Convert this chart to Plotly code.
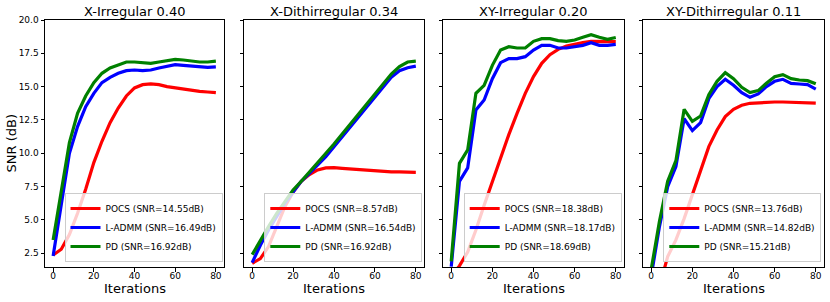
import plotly.graph_objects as go

# ---------------- data ----------------
iterations = list(range(0, 81, 4))

titles = ["X-Irregular 0.40", "X-Dithirregular 0.34", "XY-Irregular 0.20", "XY-Dithirregular 0.11"]
methods = ["POCS", "L-ADMM", "PD"]
final_snr = [
    [14.55, 16.49, 16.92],
    [8.57, 16.54, 16.92],
    [18.38, 18.17, 18.69],
    [13.76, 14.82, 15.21],
]

x_irr_pocs = [2.37, 2.8, 3.9, 5.5, 7.3, 9.3, 10.9, 12.3, 13.4, 14.3, 14.9, 15.15, 15.2, 15.15, 15.0, 14.9, 14.8, 14.7, 14.65, 14.6, 14.55]
x_irr_ladmm = [2.3, 6.0, 10.0, 12.0, 13.5, 14.5, 15.3, 15.7, 16.0, 16.2, 16.25, 16.2, 16.25, 16.4, 16.55, 16.65, 16.6, 16.55, 16.45, 16.45, 16.49]
x_irr_pd = [3.5, 7.0, 10.8, 13.0, 14.3, 15.3, 16.0, 16.4, 16.65, 16.85, 16.85, 16.8, 16.75, 16.85, 16.95, 17.05, 17.0, 16.9, 16.85, 16.85, 16.92]

x_dith_pocs = [1.75, 2.1, 3.0, 4.5, 6.0, 7.1, 7.9, 8.4, 8.75, 8.9, 8.92, 8.87, 8.82, 8.75, 8.7, 8.65, 8.62, 8.6, 8.6, 8.57, 8.57]
x_dith_ladmm = [1.8, 3.1, 4.25, 5.25, 6.25, 7.1, 7.9, 8.5, 9.1, 9.75, 10.5, 11.25, 12.0, 12.75, 13.5, 14.25, 15.0, 15.7, 16.2, 16.42, 16.54]
x_dith_pd = [2.4, 3.5, 4.5, 5.5, 6.4, 7.25, 7.9, 8.6, 9.25, 9.95, 10.7, 11.45, 12.2, 12.95, 13.7, 14.45, 15.2, 15.95, 16.5, 16.85, 16.92]

xy_irr_pocs = [0.8, 1.55, 2.6, 4.25, 6.1, 7.9, 9.6, 11.4, 13.0, 14.5, 15.75, 16.75, 17.4, 17.8, 18.05, 18.2, 18.3, 18.4, 18.4, 18.4, 18.38]
xy_irr_ladmm = [1.5, 7.9, 8.9, 13.25, 14.0, 15.6, 16.8, 17.1, 17.1, 17.25, 17.75, 18.1, 18.1, 17.9, 17.9, 18.0, 18.1, 18.3, 18.1, 18.1, 18.17]
xy_irr_pd = [1.9, 9.25, 10.25, 14.5, 15.1, 16.6, 17.75, 18.0, 17.9, 17.9, 18.4, 18.6, 18.6, 18.45, 18.4, 18.5, 18.7, 18.9, 18.7, 18.55, 18.69]

xy_dith_pocs = [-1.0, 0.0, 2.25, 3.5, 5.1, 6.9, 8.75, 10.5, 11.75, 12.75, 13.3, 13.6, 13.75, 13.8, 13.85, 13.85, 13.85, 13.82, 13.8, 13.8, 13.76]
xy_dith_ladmm = [0.8, 4.5, 7.5, 9.0, 12.6, 11.7, 12.3, 14.1, 15.0, 15.55, 15.1, 14.55, 14.2, 14.45, 15.0, 15.4, 15.55, 15.25, 15.2, 15.15, 14.82]
xy_dith_pd = [1.3, 4.9, 7.9, 9.45, 13.3, 12.4, 12.8, 14.4, 15.4, 16.05, 15.6, 14.95, 14.55, 14.7, 15.25, 15.75, 15.9, 15.6, 15.5, 15.45, 15.21]

panels = [
    [x_irr_pocs, x_irr_ladmm, x_irr_pd],
    [x_dith_pocs, x_dith_ladmm, x_dith_pd],
    [xy_irr_pocs, xy_irr_ladmm, xy_irr_pd],
    [xy_dith_pocs, xy_dith_ladmm, xy_dith_pd],
]

y_ticks = [2.5, 5.0, 7.5, 10.0, 12.5, 15.0, 17.5, 20.0]
x_ticks = [0, 20, 40, 60, 80]
x_label = "Iterations"
y_label = "SNR (dB)"

# ---------------- styling / layout ----------------
colors = ["#ff0000", "#0000ff", "#008000"]
FONT = "DejaVu Sans"
W, H = 830, 302
ML, MR, MT, MB = 45, 6, 20, 35
PW = W - ML - MR
PH = H - MT - MB

panel_px = [(45, 224), (244, 424), (443, 624), (643, 824)]
legend_right_px = [222.5, 422.3, 621.7, 821.3]

fig = go.Figure()
layout = dict(
    width=W, height=H,
    margin=dict(l=ML, r=MR, t=MT, b=MB, pad=0),
    paper_bgcolor="white", plot_bgcolor="white",
    font=dict(family=FONT, size=9, color="black"),
    showlegend=True,
    annotations=[],
)

for i, (series, title) in enumerate(zip(panels, titles)):
    n = i + 1
    xa = "x" if n == 1 else f"x{n}"
    ya = "y" if n == 1 else f"y{n}"
    leg = "legend" if n == 1 else f"legend{n}"
    for m, (vals, col) in enumerate(zip(series, colors)):
        fig.add_trace(go.Scatter(
            x=iterations, y=vals, mode="lines",
            line=dict(color=col, width=3.2),
            name=f"{methods[m]} (SNR={final_snr[i][m]:.2f}dB)",
            xaxis=xa, yaxis=ya, legend=leg,
        ))
    x0, x1 = panel_px[i]
    dom = [(x0 - ML) / PW, (x1 - ML) / PW]
    axis_common = dict(
        showline=True, linecolor="black", linewidth=1, mirror=True,
        ticks="outside", ticklen=3.5, tickwidth=1, tickcolor="black",
        showgrid=False, zeroline=False, automargin=False,
        tickfont=dict(family=FONT, size=9, color="black"),
    )
    layout["xaxis" if n == 1 else f"xaxis{n}"] = dict(
        domain=dom, range=[-4, 84], tickvals=x_ticks, anchor=ya,
        ticklabelstandoff=-3,
        **axis_common,
    )
    layout["yaxis" if n == 1 else f"yaxis{n}"] = dict(
        domain=[0, 1], range=[1.47, 20.0], tickvals=y_ticks, tickformat=".1f",
        anchor=xa, showticklabels=(n == 1), **axis_common,
    )
    layout[leg] = dict(
        x=(legend_right_px[i] - ML) / PW, y=5 / PH,
        xanchor="right", yanchor="bottom",
        bgcolor="rgba(255,255,255,0.8)", bordercolor="#cccccc", borderwidth=1,
        font=dict(family=FONT, size=9, color="black"),
        itemwidth=30, tracegroupgap=0,
    )
    cx = (dom[0] + dom[1]) / 2
    layout["annotations"].append(dict(
        text=title, xref="paper", yref="paper",
        x=cx, y=(H - MB - 12) / PH,
        xanchor="center", yanchor="middle", showarrow=False,
        font=dict(family=FONT, size=13, color="black"),
    ))
    layout["annotations"].append(dict(
        text=x_label, xref="paper", yref="paper",
        x=cx, y=(H - MB - 288) / PH,
        xanchor="center", yanchor="middle", showarrow=False,
        font=dict(family=FONT, size=13, color="black"),
    ))

layout["annotations"].append(dict(
    text=y_label, xref="paper", yref="paper",
    x=(11 - ML) / PW, y=0.5, textangle=-90,
    xanchor="center", yanchor="middle", showarrow=False,
    font=dict(family=FONT, size=13, color="black"),
))

fig.update_layout(**layout)
fig.write_html("out.html", config={"displayModeBar": False},
               post_script="document.body.style.margin='0px';document.body.style.padding='0px';")
